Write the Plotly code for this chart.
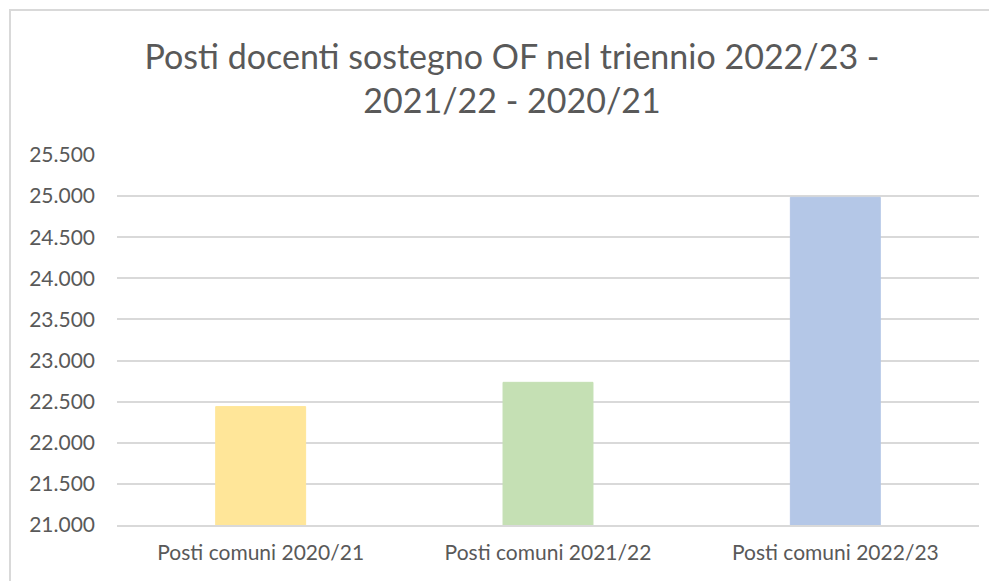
import plotly.graph_objects as go

categories = ["Posti comuni 2020/21", "Posti comuni 2021/22", "Posti comuni 2022/23"]
values = [22440, 22735, 24985]
bar_colors = ["#FFE699", "#C5E0B4", "#B4C7E7"]
title_text = "Posti docenti sostegno OF nel triennio 2022/23 -<br>2021/22 - 2020/21"
y_ticks = [21000, 21500, 22000, 22500, 23000, 23500, 24000, 24500, 25000, 25500]

# page body has an 8px margin: work in figure coordinates (page - 8)
OFF = 8
W, H = 997 - OFF, 581 - OFF
L, R, T, B = 117 - OFF, 18, 155 - OFF, 56
pw, ph = W - L - R, H - T - B

def px_x(p):
    return (p - OFF - L) / pw

def px_y(p):
    return (H - B - (p - OFF)) / ph

FONT = "Lato, Carlito, sans-serif"

fig = go.Figure(go.Bar(
    x=categories, y=values,
    marker=dict(color=bar_colors, line=dict(color=bar_colors, width=1)),
    width=0.313,
))

fig.update_layout(
    width=W, height=H,
    margin=dict(l=L, r=R, t=T, b=B),
    paper_bgcolor="white", plot_bgcolor="white",
    separators=",.",
    showlegend=False,
    font=dict(family=FONT, color="#595959"),
    title=dict(text=title_text, x=(512 - OFF) / W, xanchor="center", xref="container",
               y=1 - (69 - OFF) / H, yanchor="middle", yref="container",
               font=dict(size=34, color="#595959", family=FONT)),
    xaxis=dict(showgrid=False, showline=True, linecolor="#d9d9d9", linewidth=1.5,
               tickfont=dict(size=21, color="#595959"), ticks="", ticklabelstandoff=8),
    yaxis=dict(range=[21000, 25500], tickvals=y_ticks, tickformat=",.0f",
               showgrid=True, gridcolor="#d9d9d9", gridwidth=1.5, zeroline=False,
               showline=False, tickfont=dict(size=21, color="#595959"),
               ticks="", ticklabelstandoff=21),
    shapes=[
        dict(type="line", xref="paper", yref="paper", x0=px_x(10), x1=px_x(10),
             y0=px_y(9), y1=px_y(600), line=dict(color="#d9d9d9", width=2)),
        dict(type="line", xref="paper", yref="paper", x0=px_x(9), x1=px_x(1010),
             y0=px_y(10), y1=px_y(10), line=dict(color="#d9d9d9", width=2)),
    ],
)

fig.write_html("out.html")
